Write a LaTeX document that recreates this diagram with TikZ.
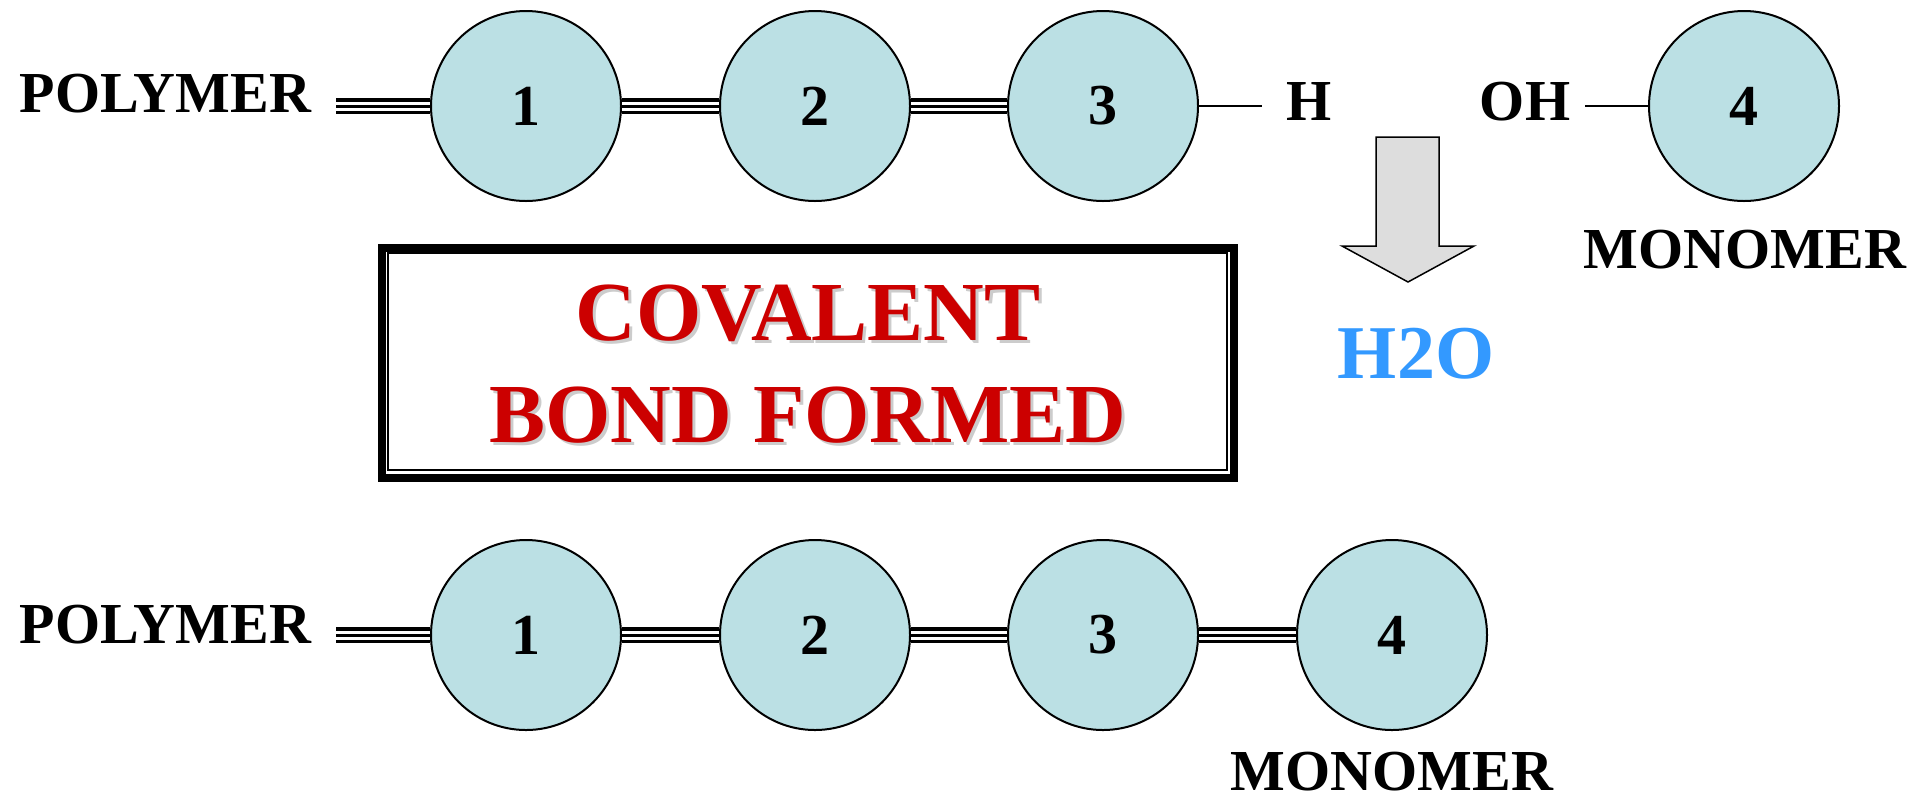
\documentclass[tikz,border=0pt]{standalone}
\usepackage{fontspec}
\setmainfont{Liberation Serif}
\definecolor{bead}{RGB}{187,224,228}
\definecolor{bondred}{RGB}{204,0,0}
\definecolor{waterblue}{RGB}{51,153,255}
\definecolor{arrowgray}{RGB}{221,221,221}

\begin{document}
\begin{tikzpicture}[x=0.5pt, y=-0.5pt,
  unit/.style ={circle, draw, line width=1pt, fill=bead, inner sep=0pt, minimum size=95pt, font=\fontsize{29}{34}\selectfont\bfseries},
  word/.style ={inner sep=0pt, font=\fontsize{29}{34}\selectfont\bfseries},
  title/.style ={inner sep=0pt, align=center, font=\fontsize{42}{51}\selectfont\bfseries},
  bond/.style ={line width=8pt, postaction={draw, white, line width=4.5pt}, postaction={draw, black, line width=1.5pt}},
  link/.style ={line width=0.7pt}]
 \useasboundingbox (0,0) rectangle (1915,800);
 % before
 \node[unit] (C1) at (526,106) {1};
 \node[unit] (C2) at (815,106) {2};
 \node[unit] (C3) at (1103,106) {3};
 \node[unit] (C4) at (1744,106) {4};
 \node[word, anchor=east, outer xsep=12.5pt] (P1) at (336,94) {POLYMER};
 \node[word, outer xsep=12pt] (H) at (1309,102) {H};
 \node[word, outer xsep=7.5pt] (OH) at (1525,102) {OH};
 \node[word] (M1) at (1745,250) {MONOMER};
 \draw[bond] (P1.east |- C1) to (C1);
 \draw[bond] (C1) to (C2);
 \draw[bond] (C2) to (C3);
 \draw[link] (C3) to (C3 -| H.west);
 \draw[link] (OH.east |- C4) to (C4);
 % water out
 \draw[fill=arrowgray, line width=0.75pt] (1376,137) -- (1439,137) -- (1439,246) -- (1474,246)
   -- (1408,282) -- (1342,246) -- (1376,246) -- cycle;
 \node[word, text=waterblue, font=\fontsize{38}{44}\selectfont\bfseries] (W) at (1416,354) {H2O};
 % box
 \draw[line width=4pt] (382,248) rectangle (1234,478);
 \draw[line width=1pt] (388,253) rectangle (1227,470);
 \node[title, text=black!20] (TS) at (811,367) {COVALENT\\BOND FORMED};
 \node[title, text=bondred] (T) at (808,364) {COVALENT\\BOND FORMED};
 % after
 \node[unit] (D1) at (526,635) {1};
 \node[unit] (D2) at (815,635) {2};
 \node[unit] (D3) at (1103,635) {3};
 \node[unit] (D4) at (1392,635) {4};
 \node[word, anchor=east, outer xsep=12.5pt] (P2) at (336,625) {POLYMER};
 \node[word] (M2) at (1392,772) {MONOMER};
 \draw[bond] (P2.east |- D1) to (D1);
 \draw[bond] (D1) to (D2);
 \draw[bond] (D2) to (D3);
 \draw[bond] (D3) to (D4);
\end{tikzpicture}
\end{document}
